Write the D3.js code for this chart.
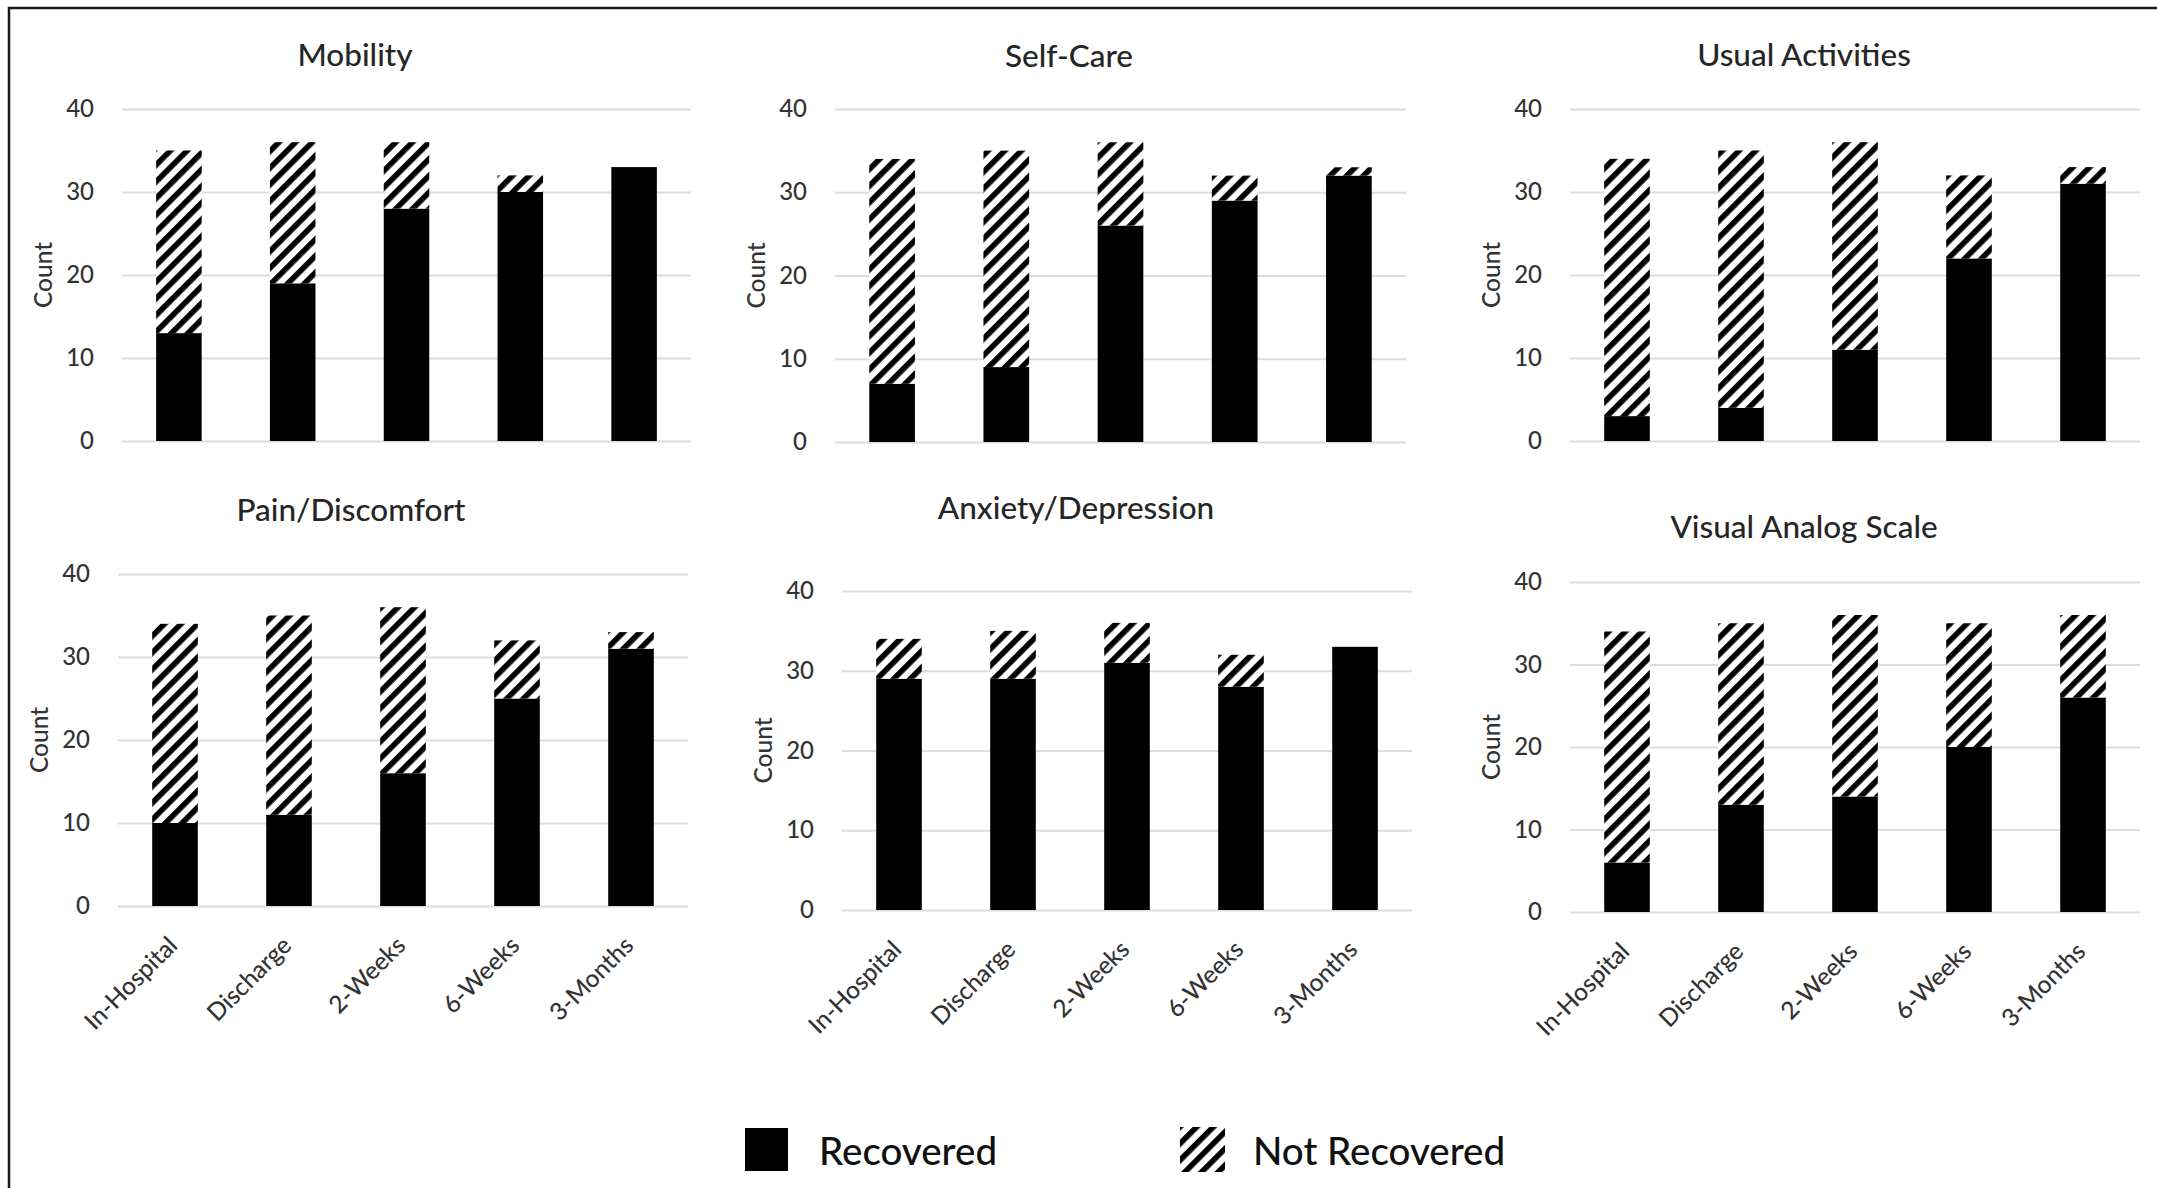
<!DOCTYPE html>
<html>
<head>
<meta charset="utf-8">
<script src="https://cdn.jsdelivr.net/npm/d3@7"></script>
<style>
  html, body { margin: 0; padding: 0; background: #fff; }
  svg { display: block; }
  text { font-family: Lato, "Open Sans", sans-serif; }
</style>
</head>
<body>
<script>
// ---- data ----
const categories = ["In-Hospital", "Discharge", "2-Weeks", "6-Weeks", "3-Months"];
const seriesKeys = ["Recovered", "Not Recovered"];
const yTicks = [0, 10, 20, 30, 40];

const mobilityRecovered = [13, 19, 28, 30, 33];
const mobilityNotRecovered = [22, 17, 8, 2, 0];

const selfCareRecovered = [7, 9, 26, 29, 32];
const selfCareNotRecovered = [27, 26, 10, 3, 1];

const usualActivitiesRecovered = [3, 4, 11, 22, 31];
const usualActivitiesNotRecovered = [31, 31, 25, 10, 2];

const painRecovered = [10, 11, 16, 25, 31];
const painNotRecovered = [24, 24, 20, 7, 2];

const anxietyRecovered = [29, 29, 31, 28, 33];
const anxietyNotRecovered = [5, 6, 5, 4, 0];

const vasRecovered = [6, 13, 14, 20, 26];
const vasNotRecovered = [28, 22, 22, 15, 10];

const panels = [
  { title: "Mobility", recovered: mobilityRecovered, notRecovered: mobilityNotRecovered },
  { title: "Self-Care", recovered: selfCareRecovered, notRecovered: selfCareNotRecovered },
  { title: "Usual Activities", recovered: usualActivitiesRecovered, notRecovered: usualActivitiesNotRecovered },
  { title: "Pain/Discomfort", recovered: painRecovered, notRecovered: painNotRecovered },
  { title: "Anxiety/Depression", recovered: anxietyRecovered, notRecovered: anxietyNotRecovered },
  { title: "Visual Analog Scale", recovered: vasRecovered, notRecovered: vasNotRecovered }
];

// ---- layout (plot box of each small multiple) ----
const layout = [
  { x0: 122, x1: 691,  yTop: 109, yBase: 441, titleX: 355,  titleY: 66,  xLabels: false },
  { x0: 835, x1: 1406, yTop: 109, yBase: 442, titleX: 1069, titleY: 67,  xLabels: false },
  { x0: 1570, x1: 2140, yTop: 109, yBase: 441, titleX: 1804, titleY: 66,  xLabels: false },
  { x0: 118, x1: 688,  yTop: 574, yBase: 906, titleX: 351,  titleY: 521, xLabels: true },
  { x0: 842, x1: 1412, yTop: 591, yBase: 910, titleX: 1076, titleY: 519, xLabels: true },
  { x0: 1570, x1: 2140, yTop: 582, yBase: 912, titleX: 1804, titleY: 538, xLabels: true }
];

const W = 2157, H = 1188;
const svg = d3.select("body").append("svg")
  .attr("width", W).attr("height", H)
  .attr("viewBox", `0 0 ${W} ${H}`);

svg.append("rect").attr("width", W).attr("height", H).attr("fill", "#fff");

// diagonal hatch used for the "Not Recovered" segments
const hatchPeriod = 11.8, hatchStroke = 5.6;
const defs = svg.append("defs");
const hatch = defs.append("pattern")
  .attr("id", "hatch")
  .attr("patternUnits", "userSpaceOnUse")
  .attr("width", hatchPeriod).attr("height", hatchPeriod)
  .attr("patternTransform", "rotate(45)");
hatch.append("rect").attr("width", hatchPeriod).attr("height", hatchPeriod).attr("fill", "#fff");
hatch.append("rect").attr("width", hatchStroke).attr("height", hatchPeriod).attr("fill", "#000");

const fills = { "Recovered": "#000", "Not Recovered": "url(#hatch)" };

// outer frame (left and top edges)
svg.append("path")
  .attr("d", `M9,${H} V8 H${W}`)
  .attr("fill", "none")
  .attr("stroke", "#1a1a1a")
  .attr("stroke-width", 2.5);

panels.forEach((p, i) => {
  const L = layout[i];
  const g = svg.append("g").attr("class", "panel");

  const x = d3.scaleBand()
    .domain(categories)
    .range([L.x0, L.x1])
    .paddingInner(0.6)
    .paddingOuter(0.3);

  const y = d3.scaleLinear()
    .domain([0, 40])
    .range([L.yBase, L.yTop]);

  // y axis with gridlines
  g.append("g")
    .attr("transform", `translate(${L.x0},0)`)
    .call(d3.axisLeft(y)
      .tickValues(yTicks)
      .tickSize(-(L.x1 - L.x0))
      .tickPadding(28)
      .tickFormat(d3.format("d")))
    .call(a => a.select(".domain").remove())
    .call(a => a.selectAll(".tick line").attr("stroke", "#dcdcdc").attr("stroke-width", 2))
    .call(a => a.selectAll(".tick text")
      .attr("fill", "#333")
      .attr("font-size", 24)
      .attr("font-weight", 500)
      .attr("font-family", "Lato, sans-serif"));

  // stacked bars
  const rows = categories.map((c, j) => ({
    category: c,
    "Recovered": p.recovered[j],
    "Not Recovered": p.notRecovered[j]
  }));
  const stacked = d3.stack().keys(seriesKeys)(rows);

  g.selectAll(".layer")
    .data(stacked)
    .join("g")
    .attr("class", "layer")
    .attr("fill", d => fills[d.key])
    .selectAll("rect")
    .data(d => d)
    .join("rect")
    .attr("x", d => x(d.data.category))
    .attr("y", d => y(d[1]))
    .attr("width", x.bandwidth())
    .attr("height", d => y(d[0]) - y(d[1]));

  // category labels (bottom row only)
  if (L.xLabels) {
    g.append("g")
      .attr("transform", `translate(0,${L.yBase})`)
      .call(d3.axisBottom(x).tickSize(0).tickPadding(0))
      .call(a => a.select(".domain").remove())
      .call(a => a.selectAll(".tick text")
        .attr("x", 0).attr("y", 0).attr("dy", 0)
        .attr("text-anchor", "end")
        .attr("transform", "translate(4,41) rotate(-45)")
        .attr("fill", "#333")
        .attr("font-size", 24.5)
        .attr("font-weight", 500)
        .attr("font-family", "Lato, sans-serif"));
  }

  // panel title
  g.append("text")
    .attr("x", L.titleX)
    .attr("y", L.titleY)
    .attr("text-anchor", "middle")
    .attr("font-size", 31.5)
    .attr("font-weight", 500)
    .attr("fill", "#262626")
    .text(p.title);

  // y axis title
  g.append("text")
    .attr("transform", `translate(${L.x0 - 79},${(L.yBase + L.yTop) / 2}) rotate(-90)`)
    .attr("text-anchor", "middle")
    .attr("dy", "0.35em")
    .attr("font-size", 24.5)
    .attr("font-weight", 500)
    .attr("fill", "#333")
    .text("Count");
});

// legend
const legend = svg.append("g").attr("class", "legend");
const legendItems = [
  { key: "Recovered", box: [745, 1128, 43, 43], textX: 819 },
  { key: "Not Recovered", box: [1180, 1127, 45, 45], textX: 1253 }
];
legendItems.forEach(item => {
  legend.append("rect")
    .attr("x", item.box[0]).attr("y", item.box[1])
    .attr("width", item.box[2]).attr("height", item.box[3])
    .attr("fill", fills[item.key]);
  legend.append("text")
    .attr("x", item.textX)
    .attr("y", 1165)
    .attr("font-size", 38.5)
    .attr("font-weight", 500)
    .attr("fill", "#111")
    .text(item.key);
});
</script>
</body>
</html>
